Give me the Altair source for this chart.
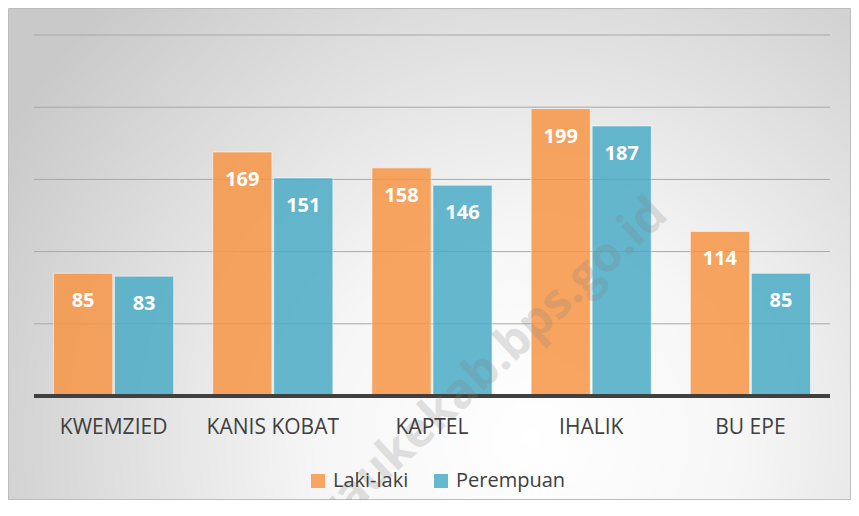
import altair as alt
import pandas as pd

categories = ["KWEMZIED", "KANIS KOBAT", "KAPTEL", "IHALIK", "BU EPE"]
series = ["Laki-laki", "Perempuan"]
laki = [85, 169, 158, 199, 114]
perempuan = [83, 151, 146, 187, 85]
colors = ["#F79646", "#4BACC6"]
grid_values = [50, 100, 150, 200, 250]

rows = []
for c, a, b in zip(categories, laki, perempuan):
    rows.append({"kab": c, "jenis": series[0], "val": a})
    rows.append({"kab": c, "jenis": series[1], "val": b})
df = pd.DataFrame(rows)
grid_df = pd.DataFrame({"val": grid_values})

W, H = 796, 361
PL, PT, PR, PB = 26, 27, 21, 104

yscale = alt.Scale(domain=[0, 250], nice=False)

bg = alt.Chart(pd.DataFrame({"a": [0]})).mark_rect(
    fill={
        "gradient": "radial",
        "x1": 0.62, "y1": 0.72, "r1": 0,
        "x2": 0.62, "y2": 0.72, "r2": 0.72,
        "stops": [
            {"offset": 0, "color": "#ffffff"},
            {"offset": 0.35, "color": "#f6f6f6"},
            {"offset": 1, "color": "#c9c9c9"},
        ],
    },
    stroke="#bdbdbd",
    strokeWidth=1,
).encode(
    x=alt.value(-PL + 0.5), x2=alt.value(W + PR - 0.5),
    y=alt.value(-PT + 0.5), y2=alt.value(H + PB - 0.5),
)

grid = alt.Chart(grid_df).mark_rule(color="#a8a8a8", strokeWidth=1).encode(
    y=alt.Y("val:Q", scale=yscale, axis=None),
    x=alt.value(0), x2=alt.value(W),
)

base = alt.Chart(df).encode(
    x=alt.X("kab:N", sort=categories,
            scale=alt.Scale(paddingInner=0.245, paddingOuter=0.1225),
            axis=alt.Axis(title=None, labelAngle=0, labelFontSize=21,
                          labelColor="#404040", labelFont="Open Sans",
                          domain=False, ticks=False, grid=False,
                          labelPadding=20, zindex=1)),
    xOffset=alt.XOffset("jenis:N", sort=series, scale=alt.Scale(paddingInner=0.03)),
    y=alt.Y("val:Q", scale=yscale, axis=None),
)

bars = base.mark_bar(opacity=0.85, stroke="#ffffff", strokeOpacity=0.6, strokeWidth=1).encode(
    color=alt.Color("jenis:N", sort=series,
                    scale=alt.Scale(domain=series, range=colors),
                    legend=alt.Legend(title=None, orient="none", direction="horizontal",
                                      legendX=274, legendY=436, symbolType="square",
                                      symbolSize=196, symbolStrokeWidth=0,
                                      symbolOpacity=0.85, labelFontSize=20,
                                      labelFont="Open Sans", labelColor="#404040",
                                      columnPadding=22, symbolOffset=0, padding=0,
                                      labelOffset=5)),
)

labels = base.mark_text(dy=28, color="white", fontWeight="bold", fontSize=20,
                        font="Open Sans", baseline="middle").encode(text="val:Q")

baseline = alt.Chart(pd.DataFrame({"a": [0]})).mark_rule(color="#404040", strokeWidth=4).encode(
    y=alt.value(H), x=alt.value(0), x2=alt.value(W)
)

watermark = alt.Chart(pd.DataFrame({"t": ["raukekab.bps.go.id"]})).mark_text(
    angle=317, fontSize=48, fontWeight="bold", font="Open Sans",
    color="#808080", opacity=0.22, align="center", baseline="middle"
).encode(text="t:N", x=alt.value(459), y=alt.value(328))

chart = alt.layer(bg, grid, bars, labels, baseline, watermark).properties(
    width=W, height=H,
    padding={"left": PL, "top": PT, "right": PR, "bottom": PB},
    autosize=alt.AutoSizeParams(type="none"),
    background="white",
).configure_view(stroke=None)

chart.save("out.html", embed_options={"renderer": "svg", "actions": False})
